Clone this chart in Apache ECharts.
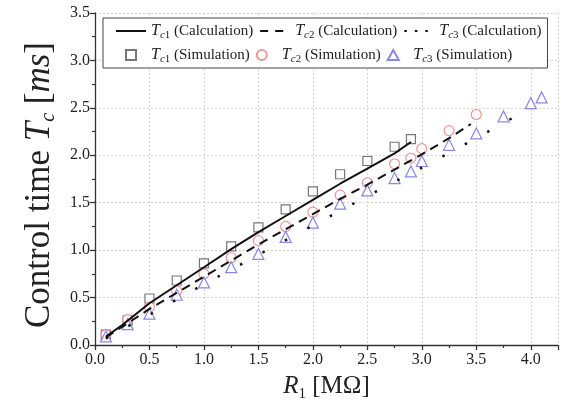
<!DOCTYPE html>
<html>
<head>
<meta charset="utf-8">
<script src="https://cdn.jsdelivr.net/npm/echarts@6/dist/echarts.min.js"></script>
<style>
  html, body { margin: 0; padding: 0; background: #fff; }
  #chart { width: 566px; height: 415px; }
</style>
</head>
<body>
<div id="chart"></div>
<script>
// 计算曲线 (Calculation)
const tc1Calc = [[0.1, 0.09], [0.25, 0.21], [0.5, 0.44], [0.75, 0.63], [1.0, 0.82], [1.25, 1.01], [1.5, 1.19],
  [1.75, 1.36], [2.0, 1.53], [2.25, 1.70], [2.5, 1.86], [2.75, 2.02], [2.9, 2.14]]
const tc2Calc = [[0.1, 0.08], [0.3, 0.23], [0.5, 0.38], [0.75, 0.55], [1.0, 0.72], [1.25, 0.89], [1.5, 1.06],
  [1.75, 1.22], [2.0, 1.38], [2.25, 1.54], [2.5, 1.69], [2.75, 1.85], [3.0, 2.01], [3.25, 2.18], [3.45, 2.33]]
const tc3Calc = [[0.1, 0.07], [0.5, 0.32], [1.0, 0.64], [1.5, 0.95], [2.0, 1.26], [2.5, 1.57], [3.0, 1.87],
  [3.5, 2.18], [4.0, 2.50]]

// 仿真点 (Simulation)
const tc1Sim = [[0.1, 0.11], [0.3, 0.26], [0.5, 0.49], [0.75, 0.68], [1.0, 0.86], [1.25, 1.04], [1.5, 1.24],
  [1.75, 1.43], [2.0, 1.62], [2.25, 1.80], [2.5, 1.94], [2.75, 2.09], [2.9, 2.17]]
const tc2Sim = [[0.1, 0.11], [0.3, 0.27], [0.5, 0.40], [0.75, 0.57], [1.0, 0.75], [1.25, 0.92], [1.5, 1.10],
  [1.75, 1.25], [2.0, 1.40], [2.25, 1.58], [2.5, 1.71], [2.75, 1.91], [2.9, 1.97], [3.0, 2.07], [3.25, 2.26],
  [3.5, 2.43]]
const tc3Sim = [[0.1, 0.09], [0.3, 0.22], [0.5, 0.33], [0.75, 0.53], [1.0, 0.66], [1.25, 0.82], [1.5, 0.96],
  [1.75, 1.14], [2.0, 1.29], [2.25, 1.49], [2.5, 1.63], [2.75, 1.76], [2.9, 1.83], [3.0, 1.94], [3.25, 2.11],
  [3.5, 2.23], [3.75, 2.41], [4.0, 2.55], [4.1, 2.61]]

// 图例名称
const legendNames = [
  'Tc1 (Calculation)', 'Tc2 (Calculation)', 'Tc3 (Calculation)',
  'Tc1 (Simulation)', 'Tc2 (Simulation)', 'Tc3 (Simulation)'
]

const serif = 'Liberation Serif'
const textColor = '#222'

const richText = {
  n: { fontFamily: serif, fontSize: 15, color: textColor, lineHeight: 20 },
  t: { fontFamily: serif, fontSize: 16, fontStyle: 'italic', color: textColor, lineHeight: 20 },
  si: { fontFamily: serif, fontSize: 11, fontStyle: 'italic', color: textColor, verticalAlign: 'bottom', lineHeight: 20 },
  sn: { fontFamily: serif, fontSize: 11, color: textColor, verticalAlign: 'bottom', lineHeight: 20 }
}

const xNameRich = {
  n: { fontFamily: serif, fontSize: 25, color: textColor },
  t: { fontFamily: serif, fontSize: 25, fontStyle: 'italic', color: textColor },
  sn: { fontFamily: serif, fontSize: 15, color: textColor, padding: [16, 0, 0, 0] }
}

const yNameRich = {
  n: { fontFamily: serif, fontSize: 35, color: textColor },
  t: { fontFamily: serif, fontSize: 35, fontStyle: 'italic', color: textColor },
  si: { fontFamily: serif, fontSize: 20, fontStyle: 'italic', color: textColor, padding: [18, 0, 0, 0] }
}

function legendLabel(name) {
  // 'Tc1 (Calculation)' -> T + subscript c1 + rest
  const idx = name.charAt(2)
  const rest = name.slice(3)
  return '{t|T}{si|c}{sn|' + idx + '}{n|' + rest + '}'
}

// 图例项：线型图例不画点，点型图例保持比例
const legendData = [
  { name: legendNames[0], itemStyle: { opacity: 0 } },
  { name: legendNames[1], itemStyle: { opacity: 0 }, lineStyle: { type: [8, 7] } },
  { name: legendNames[2], itemStyle: { opacity: 0 }, lineStyle: { type: [2.5, 8] } },
  { name: legendNames[3], icon: 'path://M0,0H10V10H0Z' },
  { name: legendNames[4], icon: 'circle' },
  { name: legendNames[5], icon: 'path://M5,0L10,9H0Z' }
]

const myChart = echarts.init(document.getElementById('chart'), null, { renderer: 'canvas' })

const option = {
  animation: false,
  backgroundColor: '#fff',
  grid: { left: 95, right: 8, top: 13, bottom: 70, containLabel: false },
  legend: {
    data: legendData,
    left: 103,
    top: 18,
    width: 440,
    padding: [5, 6, 3, 12],
    itemGap: 6,
    itemWidth: 30,
    itemHeight: 10,
    symbolKeepAspect: true,
    borderColor: '#444',
    borderWidth: 1,
    backgroundColor: '#fff',
    formatter: legendLabel,
    textStyle: { rich: richText }
  },
  xAxis: {
    type: 'value',
    min: 0,
    max: 4.25,
    interval: 0.5,
    name: '{t|R}{sn|1}{n| [MΩ]}',
    nameLocation: 'middle',
    nameGap: 26,
    nameTextStyle: { rich: xNameRich },
    axisLine: { onZero: false, lineStyle: { color: '#333', width: 1.3 } },
    axisTick: { inside: false, length: 5, lineStyle: { color: '#333', width: 1.3 } },
    minorTick: { show: true, splitNumber: 2, length: 3, lineStyle: { color: '#333', width: 1.2 } },
    axisLabel: {
      showMaxLabel: false,
      margin: 7,
      fontFamily: serif,
      fontSize: 16,
      color: textColor,
      formatter: v => v.toFixed(1)
    },
    splitLine: { show: true, lineStyle: { color: '#d4d4d4', type: [2, 2], width: 1 } }
  },
  yAxis: {
    type: 'value',
    min: 0,
    max: 3.5,
    interval: 0.5,
    name: '{n|Control time }{t|T}{si|c}{n| [}{t|ms}{n|]}',
    nameLocation: 'middle',
    nameRotate: 90,
    nameGap: 31,
    nameTextStyle: { rich: yNameRich, padding: [0, 12, 0, 0] },
    axisLine: { show: true, lineStyle: { color: '#333', width: 1.3 } },
    axisTick: { show: true, inside: false, length: 5, lineStyle: { color: '#333', width: 1.3 } },
    minorTick: { show: true, splitNumber: 2, length: 3, lineStyle: { color: '#333', width: 1.2 } },
    axisLabel: {
      margin: 5,
      fontFamily: serif,
      fontSize: 16,
      color: textColor,
      formatter: v => v.toFixed(1)
    },
    splitLine: { show: true, lineStyle: { color: '#d4d4d4', type: [2, 2], width: 1 } }
  },
  series: [
    {
      name: legendNames[0],
      type: 'line',
      data: tc1Calc,
      symbol: 'none',
      lineStyle: { color: '#111', width: 2, type: 'solid' },
      itemStyle: { color: '#111' },
      z: 3
    },
    {
      name: legendNames[1],
      type: 'line',
      data: tc2Calc,
      symbol: 'none',
      lineStyle: { color: '#111', width: 2, type: [9, 6] },
      itemStyle: { color: '#111' },
      z: 3
    },
    {
      name: legendNames[2],
      type: 'line',
      data: tc3Calc,
      symbol: 'none',
      lineStyle: { color: '#111', width: 2.5, type: [2.5, 23] },
      itemStyle: { color: '#111' },
      z: 3
    },
    {
      name: legendNames[3],
      type: 'scatter',
      data: tc1Sim,
      symbol: 'rect',
      symbolSize: 9,
      itemStyle: { color: '#fff', borderColor: '#555', borderWidth: 1.2 },
      z: 2
    },
    {
      name: legendNames[4],
      type: 'scatter',
      data: tc2Sim,
      symbol: 'circle',
      symbolSize: 10,
      itemStyle: { color: '#fff', borderColor: '#ec7a80', borderWidth: 1.2 },
      z: 2
    },
    {
      name: legendNames[5],
      type: 'scatter',
      data: tc3Sim,
      symbol: 'triangle',
      symbolSize: 11,
      itemStyle: { color: '#fff', borderColor: '#6a6ae0', borderWidth: 1.2 },
      z: 2
    }
  ]
}

myChart.setOption(option)
</script>
</body>
</html>
